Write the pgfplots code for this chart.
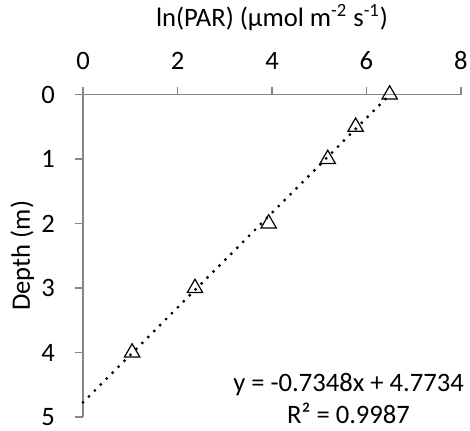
\documentclass[border=0pt]{standalone}
\usepackage{pgfplots}
\pgfplotsset{compat=1.18}
\usepackage{fontspec}
\setmainfont{Carlito}
\definecolor{axisgray}{HTML}{868686}

% Light profile: ln(PAR) against depth
\pgfplotstableread{
lnpar depth
6.49 0
5.77 0.5
5.18 1
3.93 2
2.37 3
1.04 4
}\profile

\begin{document}
\fontsize{13.3}{16}\selectfont
\begin{tikzpicture}
\begin{axis}[
  scale only axis, width=189pt, height=161.25pt,
  xmin=0, xmax=8, ymin=0, ymax=5, y dir=reverse,
  axis x line=top, axis y line=left,
  axis line style={-, draw=axisgray, line width=0.6pt},
  xtick={0,2,4,6,8}, ytick={0,1,2,3,4,5},
  tick style={draw=axisgray, line width=0.6pt},
  tick align=outside, major tick length=4pt,
  /pgf/number format/assume math mode=true,
  tick label style={font=\fontsize{13.3}{16}\selectfont},
  xticklabel style={yshift=4pt},
  yticklabel style={xshift=-5.5pt},
  label style={font=\fontsize{13.3}{16}\selectfont},
  xlabel={ln(PAR) (µmol m\textsuperscript{-2} s\textsuperscript{-1})},
  xlabel style={yshift=1pt},
  ylabel={Depth (m)},
  ylabel style={yshift=-5.5pt},
  clip=false,
]
\coordinate (LL) at (axis cs:0,5);
% linear trendline
\addplot[black, line width=1.6pt, line cap=round, dash pattern=on 0pt off 4.2pt]
  coordinates {(0,4.7734) (6.4962,0)};
\addplot[only marks, mark=triangle, mark size=4.4pt, mark options={draw=black, fill=white, line width=0.6pt}]
  table[x=lnpar, y=depth] {\profile};
\node[align=center, font=\fontsize{13.3}{16}\selectfont] at (axis cs:5.62,4.72)
  {y = -0.7348x + 4.7734\\R² = 0.9987};
\end{axis}
\pgfresetboundingbox
\path ([shift={(-41.5pt,-6.5pt)}]LL) rectangle ([shift={(193.5pt,208.5pt)}]LL);
\end{tikzpicture}
\end{document}
